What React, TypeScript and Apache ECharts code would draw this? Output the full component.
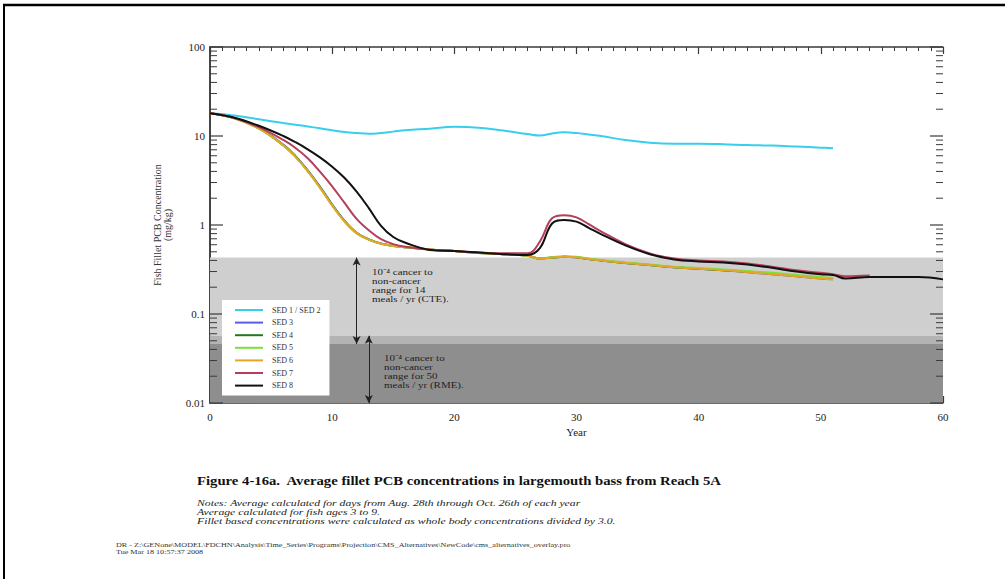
import React, { useEffect, useRef } from "react";
import * as echarts from "echarts";

// ---------- data ----------
const YEARS = [0, 2, 4, 6, 7, 8, 9, 10, 11, 12, 13, 14, 15, 16, 18, 20, 22, 24, 26, 27, 28, 29, 30, 31, 32, 34, 36, 38, 40, 42, 44, 46, 48, 50, 51, 52, 54, 56, 58, 60];

const SED12 = [18.0, 17.0, 15.4, 14.0, 13.4, 12.8, 12.2, 11.6, 11.1, 10.8, 10.6, 10.8, 11.2, 11.6, 12.1, 12.7, 12.4, 11.5, 10.5, 10.1, 10.7, 11.0, 10.8, 10.4, 10.0, 9.0, 8.4, 8.2, 8.2, 8.1, 7.9, 7.8, 7.6, 7.4, 7.3, null, null, null, null, null];
const SED3 = [18.0, 15.9, 12.3, 8.0, 5.95, 4.12, 2.7, 1.7, 1.12, 0.82, 0.69, 0.62, 0.583, 0.562, 0.531, 0.51, 0.485, 0.47, 0.45, 0.42, 0.43, 0.44, 0.435, 0.415, 0.40, 0.375, 0.355, 0.335, 0.322, 0.31, 0.295, 0.28, 0.265, 0.25, 0.245, null, null, null, null, null];
const SED4 = [18.0, 15.85, 12.2, 7.9, 5.88, 4.08, 2.66, 1.68, 1.11, 0.815, 0.687, 0.618, 0.582, 0.562, 0.531, 0.51, 0.485, 0.47, 0.45, 0.42, 0.43, 0.44, 0.435, 0.415, 0.40, 0.375, 0.355, 0.335, 0.322, 0.31, 0.298, 0.283, 0.268, 0.253, 0.248, null, null, null, null, null];
const SED5 = [18.0, 15.85, 12.16, 7.85, 5.82, 4.03, 2.63, 1.66, 1.1, 0.81, 0.684, 0.617, 0.582, 0.562, 0.531, 0.51, 0.485, 0.47, 0.45, 0.42, 0.435, 0.445, 0.44, 0.42, 0.405, 0.38, 0.36, 0.34, 0.328, 0.316, 0.304, 0.29, 0.275, 0.26, 0.255, null, null, null, null, null];
const SED6 = [18.0, 15.85, 12.16, 7.85, 5.82, 4.03, 2.63, 1.66, 1.1, 0.81, 0.684, 0.617, 0.582, 0.562, 0.531, 0.51, 0.485, 0.47, 0.45, 0.42, 0.43, 0.44, 0.435, 0.415, 0.40, 0.375, 0.355, 0.335, 0.322, 0.31, 0.295, 0.28, 0.265, 0.25, 0.245, null, null, null, null, null];
const SED7 = [18.0, 15.96, 12.59, 9.02, 7.33, 5.62, 3.98, 2.72, 1.78, 1.17, 0.871, 0.692, 0.61, 0.569, 0.527, 0.51, 0.49, 0.48, 0.48, 0.65, 1.19, 1.29, 1.22, 1.02, 0.85, 0.61, 0.48, 0.42, 0.40, 0.39, 0.37, 0.34, 0.31, 0.29, 0.28, 0.265, 0.27, null, null, null];
const SED8 = [18.0, 16.03, 13.03, 10.0, 8.51, 7.08, 5.75, 4.52, 3.39, 2.37, 1.55, 0.977, 0.733, 0.631, 0.525, 0.51, 0.49, 0.47, 0.46, 0.55, 1.04, 1.14, 1.09, 0.93, 0.79, 0.59, 0.47, 0.41, 0.39, 0.38, 0.36, 0.33, 0.30, 0.28, 0.275, 0.25, 0.26, 0.26, 0.26, 0.245];

const SERIES_NAMES = ["SED 1 / SED 2", "SED 3", "SED 4", "SED 5", "SED 6", "SED 7", "SED 8"];
const SERIES_VALUES = [SED12, SED3, SED4, SED5, SED6, SED7, SED8];
const SERIES_COLORS = ["#38cfec", "#5a5ae6", "#1f7a1f", "#7be03c", "#e6a526", "#b53e5a", "#111111"];

// risk ranges (mg/kg)
const CTE_RANGE = [0.046, 0.43];
const RME_RANGE = [0.01, 0.057];
const CTE_ARROW_YEAR = 12;
const RME_ARROW_YEAR = 13;

// axes
const X_MIN = 0;
const X_MAX = 60;
const Y_MIN = 0.01;
const Y_MAX = 100;
const LOG_MAJOR = [0.01, 0.1, 1, 10, 100];
const LOG_DECADES = [0.01, 0.1, 1, 10];
const LOG_MULTS = [2, 3, 4, 5, 6, 7, 8, 9];

const TITLE = "Figure 4-16a.  Average fillet PCB concentrations in largemouth bass from Reach 5A";
const NOTES = [
  "Notes: Average calculated for days from Aug. 28th through Oct. 26th of each year",
  "Average calculated for fish ages 3 to 9.",
  "Fillet based concentrations were calculated as whole body concentrations divided by 3.0.",
];
const FOOTER = [
  "DR - Z:\\GENone\\MODEL\\FDCHN\\Analysis\\Time_Series\\Programs\\Projection\\CMS_Alternatives\\NewCode\\cms_alternatives_overlay.pro",
  "Tue Mar 18 10:57:37 2008",
];
const CTE_TEXT = "10\u207B\u2074 cancer to\nnon-cancer\nrange for 14\nmeals / yr (CTE).";
const RME_TEXT = "10\u207B\u2074 cancer to\nnon-cancer\nrange for 50\nmeals / yr (RME).";

const SERIF = '"Liberation Serif", "Times New Roman", serif';
const AXIS_COLOR = "#3a3a3a";

function pairs(vals: (number | null)[]) {
  const out: [number, number][] = [];
  YEARS.forEach((y, i) => {
    const v = vals[i];
    if (v !== null && v !== undefined) out.push([y, v]);
  });
  return out;
}

export default function App() {
  const ref = useRef<HTMLDivElement>(null);

  useEffect(() => {
    if (!ref.current) return;
    const chart = echarts.init(ref.current, undefined, { renderer: "svg" });

    const yTicks: [number, number, number][] = [];
    LOG_MAJOR.forEach((v) => yTicks.push([X_MIN, v, 13]));
    LOG_DECADES.forEach((d) => LOG_MULTS.forEach((m) => yTicks.push([X_MIN, +(d * m).toPrecision(3), 7])));

    const lineSeries = SERIES_NAMES.map((name, i) => ({
      name,
      type: "line",
      data: pairs(SERIES_VALUES[i]),
      symbol: "none",
      smooth: 0.4,
      lineStyle: { color: SERIES_COLORS[i], width: 2 },
      itemStyle: { color: SERIES_COLORS[i] },
      z: 3 + i * 0.01,
    }));

    const xAxisBase = {
      type: "value",
      min: X_MIN,
      max: X_MAX,
      interval: 10,
      axisLine: { show: true, lineStyle: { color: AXIS_COLOR, width: 1.5 } },
      axisTick: { show: true, inside: true, length: 7, lineStyle: { color: AXIS_COLOR, width: 1.2 } },
      minorTick: { show: true, splitNumber: 10, length: 4, lineStyle: { color: AXIS_COLOR, width: 1 } },
      splitLine: { show: false },
    };

    const yAxisBase = {
      type: "log",
      logBase: 10,
      min: Y_MIN,
      max: Y_MAX,
      axisLine: { show: true, lineStyle: { color: AXIS_COLOR, width: 1.5 } },
      axisTick: { show: false },
      splitLine: { show: false },
    };

    const option: any = {
      animation: false,
      backgroundColor: "#ffffff",
      grid: { left: 210, right: 62, top: 47, bottom: 176 },
      legend: {
        data: SERIES_NAMES,
        orient: "vertical",
        left: 222,
        top: 300,
        itemWidth: 28,
        itemHeight: 8,
        itemGap: 4.6,
        padding: [6, 9, 6, 13],
        backgroundColor: "#ffffff",
        icon: "path://M0,0 L28,0 L28,2 L0,2 Z",
        textStyle: { fontFamily: SERIF, fontSize: 8, color: "#333", padding: [0, 0, 0, 4] },
        selectedMode: false,
        z: 10,
      },
      xAxis: [
        {
          ...xAxisBase,
          position: "bottom",
          name: "Year",
          nameLocation: "middle",
          nameGap: 22,
          nameTextStyle: { fontFamily: SERIF, fontSize: 11, color: "#222" },
          axisLabel: { fontFamily: SERIF, fontSize: 11, color: "#222", margin: 8 },
        },
        { ...xAxisBase, position: "top", axisLabel: { show: false } },
      ],
      yAxis: [
        {
          ...yAxisBase,
          position: "left",
          name: "Fish Fillet PCB Concentration\n(mg/kg)",
          nameLocation: "middle",
          nameGap: 38,
          nameRotate: 90,
          nameTextStyle: { fontFamily: SERIF, fontSize: 10, lineHeight: 10, color: "#333" },
          axisLabel: { fontFamily: SERIF, fontSize: 11, color: "#222", margin: 5 },
        },
        { ...yAxisBase, position: "right", axisLabel: { show: false } },
      ],
      series: [
        {
          name: "ranges",
          type: "line",
          data: [],
          silent: true,
          z: 1,
          markArea: {
            silent: true,
            data: [
              [{ yAxis: RME_RANGE[1], itemStyle: { color: "#cfcfcf" } }, { yAxis: CTE_RANGE[1] }],
              [{ yAxis: CTE_RANGE[0], itemStyle: { color: "#b3b3b3" } }, { yAxis: RME_RANGE[1] }],
              [{ yAxis: RME_RANGE[0], itemStyle: { color: "#8e8e8e" } }, { yAxis: CTE_RANGE[0] }],
            ],
          },
          markLine: {
            silent: true,
            symbol: ["arrow", "arrow"],
            symbolSize: [6, 8],
            label: { show: false },
            lineStyle: { color: "#222", width: 1, type: "solid" },
            data: [
              [{ coord: [CTE_ARROW_YEAR, CTE_RANGE[1]] }, { coord: [CTE_ARROW_YEAR, CTE_RANGE[0]] }],
              [{ coord: [RME_ARROW_YEAR, RME_RANGE[0]] }, { coord: [RME_ARROW_YEAR, RME_RANGE[1]] }],
            ],
          },
        },
        {
          name: "yTicks",
          type: "custom",
          silent: true,
          z: 5,
          clip: false,
          data: yTicks,
          encode: { x: 0, y: 1 },
          renderItem: (_params: any, api: any) => {
            const v = api.value(1);
            const len = api.value(2);
            const l = api.coord([X_MIN, v]);
            const r = api.coord([X_MAX, v]);
            const st = { stroke: AXIS_COLOR, lineWidth: len > 10 ? 1.2 : 1 };
            return {
              type: "group",
              children: [
                { type: "line", shape: { x1: l[0], y1: l[1], x2: l[0] + len, y2: l[1] }, style: st },
                { type: "line", shape: { x1: r[0] - len, y1: r[1], x2: r[0], y2: r[1] }, style: st },
              ],
            };
          },
        },
        ...lineSeries,
      ],
      graphic: [
        { type: "line", shape: { x1: 3, y1: 5, x2: 1005, y2: 5 }, style: { stroke: "#000", lineWidth: 2.5 } },
        { type: "line", shape: { x1: 4, y1: 5, x2: 4, y2: 579 }, style: { stroke: "#000", lineWidth: 2 } },
        {
          type: "text",
          x: 372,
          y: 267,
          scaleX: 1.22,
          z: 10,
          style: { text: CTE_TEXT, fontFamily: SERIF, fontSize: 9, lineHeight: 9, fill: "#222", verticalAlign: "top" },
        },
        {
          type: "text",
          x: 384,
          y: 353,
          scaleX: 1.22,
          z: 10,
          style: { text: RME_TEXT, fontFamily: SERIF, fontSize: 9, lineHeight: 9, fill: "#222", verticalAlign: "top" },
        },
        {
          type: "text",
          x: 197,
          y: 480,
          scaleX: 1.09,
          style: { text: TITLE, fontFamily: SERIF, fontSize: 13.5, fontWeight: "bold", fill: "#111", verticalAlign: "middle" },
        },
        ...NOTES.map((t, i) => ({
          type: "text",
          x: 197,
          y: 503 + i * 9,
          scaleX: 1.3,
          style: { text: t, fontFamily: SERIF, fontSize: 9, fontStyle: "italic", fill: "#222", verticalAlign: "middle" },
        })),
        ...FOOTER.map((t, i) => ({
          type: "text",
          x: 116,
          y: 545 + i * 7,
          scaleX: 1.25,
          style: { text: t, fontFamily: SERIF, fontSize: 6.5, fill: "#333", verticalAlign: "middle" },
        })),
      ],
    };

    chart.setOption(option);
    return () => chart.dispose();
  }, []);

  return (
    <div
      ref={ref}
      style={{ position: "fixed", left: 0, top: 0, width: 1005, height: 579, background: "#fff" }}
    />
  );
}
